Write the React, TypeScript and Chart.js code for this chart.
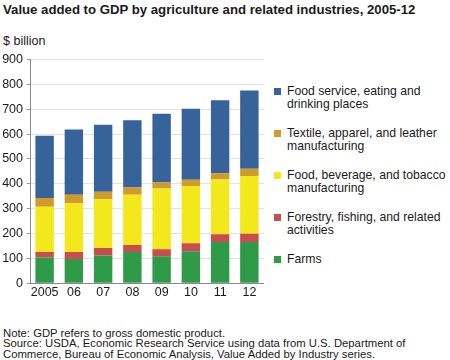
import React, { useEffect, useRef } from "react";
import { Chart, registerables } from "chart.js";

Chart.register(...registerables);

const years = ["2005", "06", "07", "08", "09", "10", "11", "12"];
const farms = [104, 98, 112, 126, 109, 129, 166, 166];
const forestry = [22, 28, 30, 28, 28, 32, 31, 33];
const foodBev = [182, 196, 196, 202, 244, 230, 220, 233];
const textile = [35, 34, 30, 29, 24, 25, 26, 29];
const foodService = [250, 263, 270, 271, 277, 286, 293, 314];
const yTicks = [0, 100, 200, 300, 400, 500, 600, 700, 800, 900];

const seriesNames = [
  "Farms",
  "Forestry, fishing, and related activities",
  "Food, beverage, and tobacco manufacturing",
  "Textile, apparel, and leather manufacturing",
  "Food service, eating and drinking places",
];
const legendLines = [
  ["Farms"],
  ["Forestry, fishing, and related", "activities"],
  ["Food, beverage, and tobacco", "manufacturing"],
  ["Textile, apparel, and leather", "manufacturing"],
  ["Food service, eating and", "drinking places"],
];
const seriesValues = [farms, forestry, foodBev, textile, foodService];
const seriesColors = ["#2f9a48", "#c94c4f", "#f2e81c", "#d19b2b", "#35639a"];

const FONT = '"Liberation Sans", Arial, Helvetica, sans-serif';

export default function App() {
  const ref = useRef<HTMLCanvasElement | null>(null);

  useEffect(() => {
    document.body.style.margin = "0";
    const canvas = ref.current!;
    const chart = new Chart(canvas, {
      type: "bar",
      data: {
        labels: years,
        datasets: seriesNames.map((name, i) => ({
          label: name,
          data: seriesValues[i],
          backgroundColor: seriesColors[i],
          borderWidth: 0,
          barPercentage: 0.63,
          categoryPercentage: 1,
        })),
      },
      options: {
        responsive: false,
        animation: false,
        devicePixelRatio: 1,
        layout: { padding: { top: 9.3, left: 0, right: 0, bottom: 0 } },
        plugins: {
          legend: { display: false },
          tooltip: { enabled: false },
        },
        scales: {
          x: {
            stacked: true,
            grid: { display: false, drawTicks: false },
            border: { display: true, color: "#8a8a8a", width: 1 },
            ticks: {
              padding: 2,
              color: "#1a1a1a",
              font: { family: FONT, size: 12.5 },
              maxRotation: 0,
              autoSkip: false,
            },
            afterFit: (s: any) => {
              s.height = 18.7;
            },
          },
          y: {
            stacked: true,
            min: 0,
            max: 900,
            afterBuildTicks: (s: any) => {
              s.ticks = yTicks.map((v) => ({ value: v }));
            },
            grid: {
              color: "#e2e2e2",
              drawTicks: true,
              tickLength: 3,
              tickColor: "#9a9a9a",
            },
            border: { display: true, color: "#8a8a8a", width: 1 },
            ticks: {
              padding: 4,
              color: "#1a1a1a",
              font: { family: FONT, size: 12.5 },
            },
            afterFit: (s: any) => {
              s.width = 30;
            },
          },
        },
      },
    });
    return () => chart.destroy();
  }, []);

  const textStyle: React.CSSProperties = {
    position: "absolute",
    fontFamily: FONT,
    color: "#1a1a1a",
    whiteSpace: "nowrap",
  };

  const legendOrder = [4, 3, 2, 1, 0];

  return (
    <div style={{ position: "relative", width: 450, height: 360, background: "#fff", overflow: "hidden" }}>
      <div style={{ ...textStyle, left: 3, top: 1, fontSize: 13.2, fontWeight: "bold", lineHeight: "17px" }}>
        Value added to GDP by agriculture and related industries, 2005-12
      </div>
      <div style={{ ...textStyle, left: 3, top: 34, fontSize: 12.5, lineHeight: "15px" }}>$ billion</div>
      <canvas
        ref={ref}
        width={264}
        height={254}
        style={{ position: "absolute", left: 0, top: 48, width: 264, height: 254 }}
      />
      {legendOrder.map((idx, k) => (
        <div key={idx} style={{ position: "absolute", left: 274, top: 85 + k * 42 }}>
          <div
            style={{
              position: "absolute",
              left: 0,
              top: 2.5,
              width: 7,
              height: 7,
              background: seriesColors[idx],
            }}
          />
          <div style={{ ...textStyle, left: 13, top: 0, fontSize: 12.2, lineHeight: "13px" }}>
            {legendLines[idx].map((l, j) => (
              <div key={j}>{l}</div>
            ))}
          </div>
        </div>
      ))}
      <div style={{ ...textStyle, left: 3, top: 327.5, fontSize: 11.3, lineHeight: "10.6px" }}>
        <div>Note: GDP refers to gross domestic product.</div>
        <div>Source: USDA, Economic Research Service using data from U.S. Department of</div>
        <div>Commerce, Bureau of Economic Analysis, Value Added by Industry series.</div>
      </div>
    </div>
  );
}
